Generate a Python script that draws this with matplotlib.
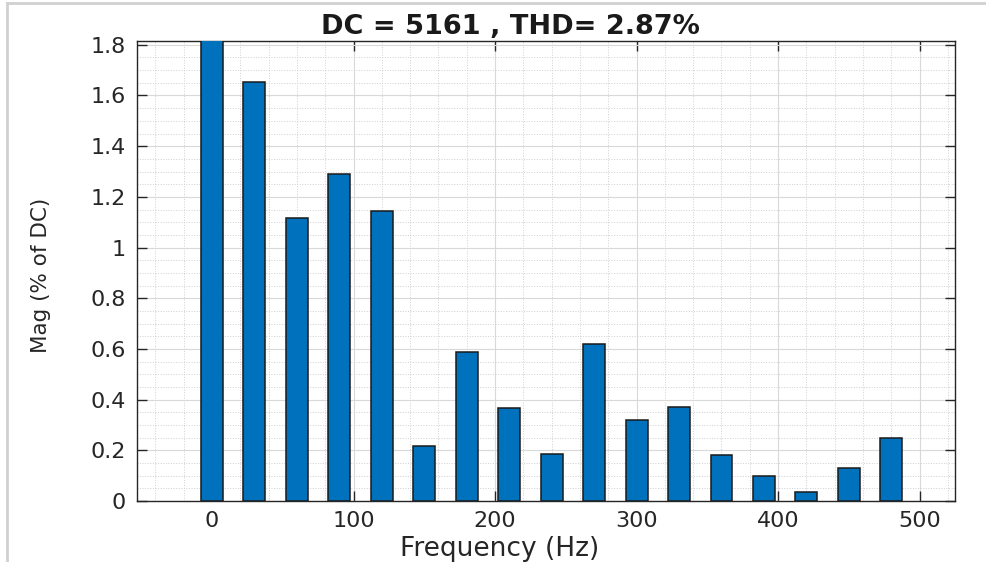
import numpy as np
import matplotlib.pyplot as plt
from matplotlib.lines import Line2D
from matplotlib.ticker import MultipleLocator

plt.rcParams['font.family'] = ['DejaVu Sans']

# --- spectrum data ---
freq = [0, 30, 60, 90, 120, 150, 180, 210, 240, 270, 300, 330, 360, 390, 420, 450, 480]
mag = [1.95, 1.654, 1.116, 1.291, 1.145, 0.216, 0.588, 0.368, 0.186,
       0.618, 0.320, 0.372, 0.182, 0.098, 0.036, 0.132, 0.247]
dc_value = 5161
thd = 2.87

fig = plt.figure(figsize=(9.87, 5.62), dpi=100)
ax = fig.add_axes([137/987, 1 - 501/562, (955-137)/987, (501-41)/562])

ax.bar(freq, mag, width=15.5, color='#0072BD', edgecolor='#1a1a1a', lw=1.1, zorder=3)

ax.set_xlim(-53, 525)
ax.set_ylim(0, 1.815)
ax.set_xticks([0, 100, 200, 300, 400, 500])
ax.set_yticks(np.arange(0, 1.81, 0.2))
ax.set_yticklabels(['0', '0.2', '0.4', '0.6', '0.8', '1', '1.2', '1.4', '1.6', '1.8'])
ax.xaxis.set_minor_locator(MultipleLocator(20))
ax.yaxis.set_minor_locator(MultipleLocator(0.05))

ax.grid(True, which='major', color='#d9d9d9', lw=0.8, zorder=0)
ax.grid(True, which='minor', color='#cfcfcf', lw=0.7, ls=':', zorder=0)
ax.set_axisbelow(True)

ax.tick_params(which='major', direction='in', length=7, width=1.0, color='#262626',
               top=True, right=True, labelsize=16, labelcolor='#262626', pad=7)
ax.tick_params(axis='y', which='major', pad=8)
ax.tick_params(which='minor', length=0)
for s in ax.spines.values():
    s.set_color('#262626')
    s.set_linewidth(1.0)

ax.set_xlabel('Frequency (Hz)', fontsize=19, color='#262626')
ax.xaxis.set_label_coords((500-137)/818, -0.075)
ax.set_ylabel('Mag (% of DC)', fontsize=15.5, color='#262626')
ax.yaxis.set_label_coords(-0.105, 0.49)
ax.set_title(f'DC = {dc_value} , THD= {thd:.2f}%', fontsize=19.5, fontweight='bold',
             color='#1a1a1a', x=(510-137)/818, pad=5)

# screenshot frame
fig.add_artist(Line2D([7/987, 7/987], [0, 1 - 3/562], color='#d0d0d0', lw=2))
fig.add_artist(Line2D([7/987, 1], [1 - 3/562, 1 - 3/562], color='#d0d0d0', lw=2))

fig.savefig('out.png', dpi=100)
